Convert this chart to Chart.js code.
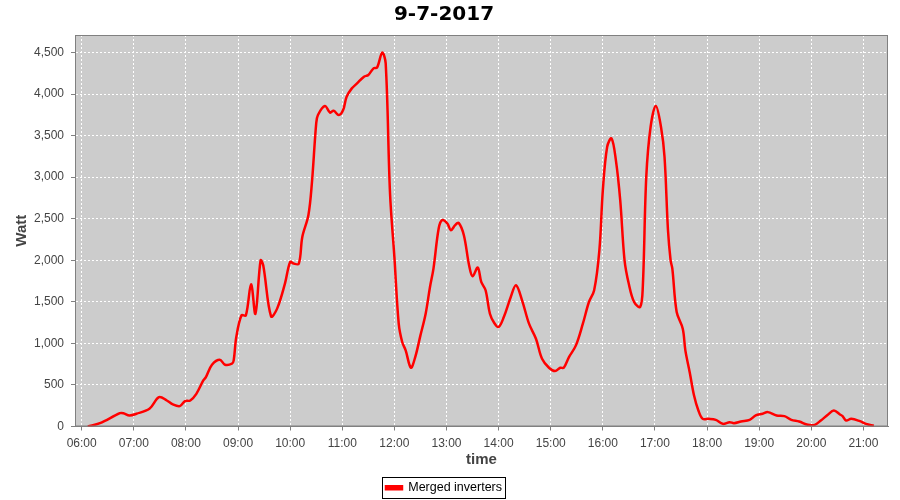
<!DOCTYPE html>
<html>
<head>
<meta charset="utf-8">
<script src="https://cdn.jsdelivr.net/npm/chart.js@4"></script>
<style>
  html, body { margin: 0; padding: 0; background: #fff; }
  #wrap { width: 900px; height: 500px; }
</style>
</head>
<body>
<div id="wrap"><canvas id="powerChart"></canvas></div>
<script>
// readings for 9-7-2017 (time of day, watt)
const times = [
    "06:07", "06:21", "06:44", "06:48", "06:55", "07:03", "07:18", "07:29", "07:38", "07:45",
    "07:53", "07:59", "08:05", "08:12", "08:20", "08:23", "08:30", "08:39", "08:45", "08:53",
    "08:55", "08:58", "09:04", "09:09", "09:15", "09:20", "09:26", "09:29", "09:38", "09:45",
    "09:54", "10:00", "10:04", "10:10", "10:14", "10:21", "10:25", "10:30", "10:32", "10:40",
    "10:46", "10:50", "10:56", "11:01", "11:05", "11:11", "11:17", "11:25", "11:30", "11:36",
    "11:40", "11:46", "11:50", "11:55", "12:00", "12:05", "12:09", "12:13", "12:19", "12:24",
    "12:30", "12:36", "12:41", "12:45", "12:51", "12:55", "13:01", "13:05", "13:10", "13:14",
    "13:20", "13:26", "13:30", "13:36", "13:40", "13:45", "13:50", "13:55", "14:00", "14:06",
    "14:14", "14:20", "14:27", "14:35", "14:43", "14:50", "14:58", "15:05", "15:11", "15:15",
    "15:21", "15:29", "15:37", "15:44", "15:50", "15:56", "16:00", "16:05", "16:10", "16:15",
    "16:20", "16:25", "16:30", "16:36", "16:43", "16:46", "16:50", "16:55", "17:01", "17:07",
    "17:11", "17:15", "17:18", "17:20", "17:25", "17:32", "17:35", "17:40", "17:45", "17:50",
    "17:55", "18:02", "18:10", "18:18", "18:26", "18:31", "18:39", "18:49", "18:56", "19:04",
    "19:10", "19:20", "19:29", "19:37", "19:46", "19:56", "20:04", "20:11", "20:19", "20:26",
    "20:33", "20:36", "20:40", "20:46", "20:56", "21:03", "21:12"
];
const watts = [
    0, 40, 160, 160, 133, 153, 213, 353, 313, 265,
    245, 305, 313, 393, 554, 594, 743, 803, 743, 755,
    795, 1076, 1337, 1337, 1711, 1357, 2000, 1940, 1325, 1418,
    1719, 1980, 1960, 1960, 2281, 2542, 2924, 3647, 3747, 3855,
    3775, 3800, 3747, 3807, 3968, 4068, 4128, 4209, 4229, 4309,
    4317, 4498, 4369, 2803, 2040, 1237, 1016, 916, 707, 835,
    1096, 1357, 1679, 1900, 2381, 2482, 2442, 2361, 2422, 2450,
    2301, 1940, 1807, 1912, 1739, 1639, 1357, 1245, 1197, 1317,
    1558, 1699, 1518, 1237, 1056, 815, 707, 667, 707, 707,
    835, 976, 1237, 1498, 1639, 2120, 2843, 3365, 3466, 3205,
    2723, 2000, 1711, 1498, 1438, 1679, 3004, 3606, 3855, 3600,
    3245, 2361, 2000, 1900, 1377, 1177, 916, 654, 373, 193,
    92, 92, 80, 32, 52, 40, 60, 80, 133, 153,
    173, 133, 125, 80, 60, 20, 20, 72, 141, 193,
    145, 125, 72, 92, 64, 32, 8
];
const hourTicks = ["06:00", "07:00", "08:00", "09:00", "10:00", "11:00", "12:00", "13:00",
                   "14:00", "15:00", "16:00", "17:00", "18:00", "19:00", "20:00", "21:00"];
const wattTicks = [0, 500, 1000, 1500, 2000, 2500, 3000, 3500, 4000, 4500];

function toMin(t) {
    const p = t.split(":");
    return parseInt(p[0], 10) * 60 + parseInt(p[1], 10);
}
function fmtMin(v) {
    const h = Math.floor(v / 60), m = Math.round(v % 60);
    return String(h).padStart(2, "0") + ":" + String(m).padStart(2, "0");
}

const points = times.map((t, i) => ({ x: toMin(t), y: watts[i] }));

// gray plot background + outline, like the original
const plotFrame = {
    id: "plotFrame",
    afterLayout(chart) {
        // push the legend a few px lower, closer to the canvas edge
        const lg = chart.legend;
        if (!lg) return;
        lg.top += 4;
        lg.bottom += 4;
    },
    beforeDraw(chart) {
        const a = chart.chartArea, ctx = chart.ctx;
        ctx.save();
        ctx.fillStyle = "#cccccc";
        ctx.fillRect(a.left, a.top, a.right - a.left, a.bottom - a.top);
        ctx.restore();
    },
    afterDraw(chart) {
        const a = chart.chartArea, ctx = chart.ctx;
        ctx.save();
        ctx.strokeStyle = "#808080";
        ctx.lineWidth = 1;
        ctx.strokeRect(a.left + 0.5, a.top + 0.5, a.right - a.left - 1, a.bottom - a.top - 1);
        // box around the legend
        const lg = chart.legend;
        if (lg && lg.legendHitBoxes && lg.legendHitBoxes.length) {
            const hb = lg.legendHitBoxes[0];
            ctx.strokeStyle = "#000";
            ctx.strokeRect(Math.round(hb.left) - 3.5, Math.round(hb.top) - 4.5,
                           Math.round(hb.width) + 7, Math.round(hb.height) + 8);
        }
        ctx.restore();
    }
};

const ctx = document.getElementById("powerChart").getContext("2d");
const powerChart = new Chart(ctx, {
    type: "line",
    data: {
        datasets: [{
            label: "Merged inverters",
            data: points,
            borderColor: "#ff0000",
            backgroundColor: "#ff0000",
            borderWidth: 2.5,
            pointRadius: 0,
            tension: 0.35,
            fill: false
        }]
    },
    options: {
        responsive: true,
        maintainAspectRatio: false,
        animation: false,
        layout: { padding: { left: 0, right: 12, top: 0, bottom: 0 } },
        plugins: {
            title: {
                display: true,
                text: "9-7-2017",
                color: "#000",
                font: { family: "DejaVu Sans", size: 20, weight: "bold" },
                padding: { top: 3, bottom: 8 }
            },
            legend: {
                position: "bottom",
                labels: {
                    color: "#000",
                    font: { family: "Liberation Sans", size: 12.5 },
                    boxWidth: 16,
                    boxHeight: 3,
                    padding: 4
                }
            },
            tooltip: { enabled: false }
        },
        scales: {
            x: {
                type: "linear",
                min: 352.3,
                max: 1288.3,
                afterBuildTicks: (s) => { s.ticks = hourTicks.map(t => ({ value: toMin(t) })); },
                afterFit: (s) => { s.height = 47; },
                ticks: {
                    color: "#444",
                    font: { family: "Liberation Sans", size: 12 },
                    padding: 6,
                    maxRotation: 0,
                    autoSkip: false,
                    callback: (v) => fmtMin(v)
                },
                grid: {
                    color: "#ffffff",
                    lineWidth: 1,
                    tickLength: 4,
                    tickColor: "#808080",
                    tickBorderDash: []
                },
                border: { display: true, color: "#808080", dash: [2, 2] },
                title: {
                    display: true,
                    text: "time",
                    color: "#444",
                    font: { family: "Liberation Sans", size: 15, weight: "bold" },
                    padding: { top: 0, bottom: 5 }
                }
            },
            y: {
                min: 0,
                max: 4710,
                afterBuildTicks: (s) => { s.ticks = wattTicks.map(v => ({ value: v })); },
                afterFit: (s) => { s.width = 75; },
                ticks: {
                    color: "#444",
                    font: { family: "Liberation Sans", size: 12 },
                    padding: 7
                },
                grid: {
                    color: "#ffffff",
                    lineWidth: 1,
                    tickLength: 4,
                    tickColor: "#808080",
                    tickBorderDash: []
                },
                border: { display: true, color: "#808080", dash: [2, 2] },
                title: {
                    display: true,
                    text: "Watt",
                    color: "#444",
                    font: { family: "Liberation Sans", size: 15, weight: "bold" },
                    padding: { top: 13, bottom: 0 }
                }
            }
        }
    },
    plugins: [plotFrame]
});
</script>
</body>
</html>
